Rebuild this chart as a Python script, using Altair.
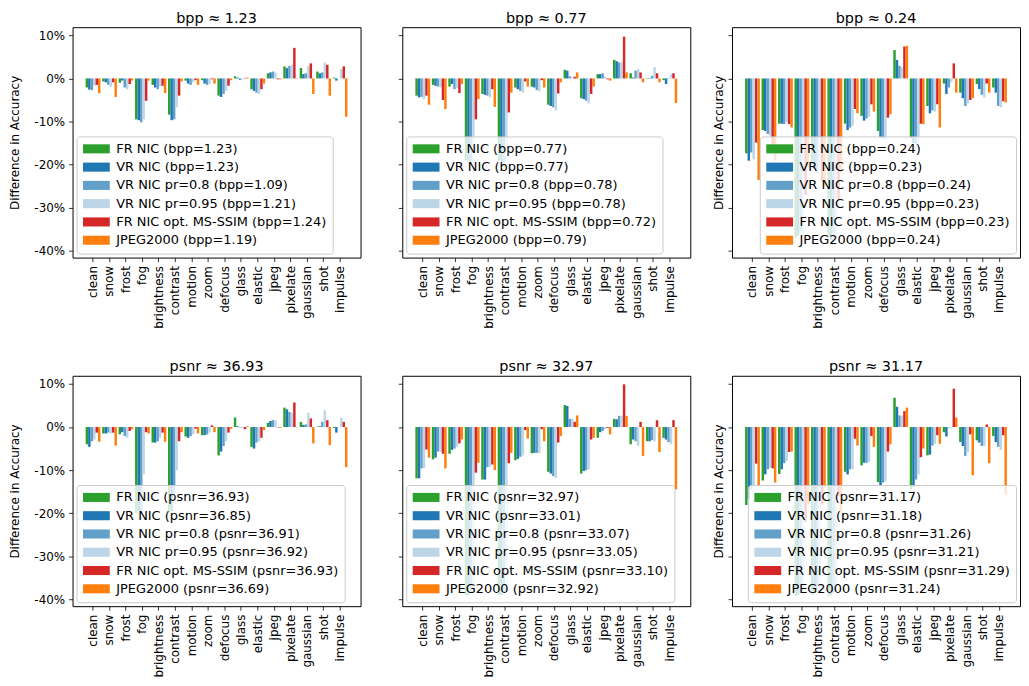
import altair as alt
import pandas as pd

CATEGORIES = ["clean", "snow", "frost", "fog", "brightness", "contrast", "motion", "zoom",
              "defocus", "glass", "elastic", "jpeg", "pixelate", "gaussian", "shot", "impulse"]
COLORS = ["#2ca02c", "#1f77b4", "#62a0ca", "#bcd6e8", "#d62728", "#ff7f0e"]
Y_TICKS = [10, 0, -10, -20, -30, -40]
TITLES = ["bpp ≈ 1.23", "bpp ≈ 0.77", "bpp ≈ 0.24", "psnr ≈ 36.93", "psnr ≈ 32.97", "psnr ≈ 31.17"]

# ---- panel 1: bpp ~ 1.23
P1_LABELS = ["FR NIC (bpp=1.23)", "VR NIC (bpp=1.23)", "VR NIC pr=0.8 (bpp=1.09)",
             "VR NIC pr=0.95 (bpp=1.21)", "FR NIC opt. MS-SSIM (bpp=1.24)", "JPEG2000 (bpp=1.19)"]
P1_FR = [-2.1, -0.7, -1.0, -9.5, -1.5, -8.4, -0.5, -0.4, -4.0, 0.5, -2.5, 1.2, 2.8, 2.4, 1.6, 0.2]
P1_VR = [-2.6, -0.9, -0.5, -9.7, -2.1, -9.7, -1.2, -1.2, -4.3, 0.2, -2.9, 1.4, 2.4, 1.0, 1.2, -0.5]
P1_VR08 = [-2.7, -1.5, -2.1, -10.2, -2.5, -9.5, -1.5, -1.5, -3.6, -0.4, -3.3, 1.6, 2.9, 1.2, 1.4, 0.0]
P1_VR095 = [-1.7, -1.9, -2.5, -9.5, -1.9, -6.7, -0.9, -1.3, -2.9, -0.2, -3.6, 1.4, 3.2, 2.9, 3.7, 2.2]
P1_MS = [-1.5, -0.9, -1.3, -5.2, -1.7, -4.0, -0.4, -0.2, -1.7, 0.1, -2.5, -0.2, 7.1, 3.5, 3.2, 2.8]
P1_JPEG = [-3.4, -4.3, -0.5, -0.5, -3.4, -0.7, -1.5, -1.2, -0.4, 0.2, -1.2, -0.2, -0.1, -3.6, -4.0, -8.9]

# ---- panel 2: bpp ~ 0.77
P2_LABELS = ["FR NIC (bpp=0.77)", "VR NIC (bpp=0.77)", "VR NIC pr=0.8 (bpp=0.78)",
             "VR NIC pr=0.95 (bpp=0.78)", "FR NIC opt. MS-SSIM (bpp=0.72)", "JPEG2000 (bpp=0.79)"]
P2_FR = [-4.0, -1.5, -1.9, -19.0, -3.6, -19.0, -2.1, -1.9, -6.1, 2.0, -4.6, 1.0, 4.3, 1.2, 0.1, -0.4]
P2_VR = [-4.4, -1.7, -1.3, -19.2, -3.8, -19.3, -2.5, -2.1, -6.4, 1.8, -4.8, 1.0, 4.0, 0.2, -0.1, -1.3]
P2_VR08 = [-4.3, -1.9, -2.5, -19.5, -4.0, -19.4, -2.9, -2.7, -6.7, 0.5, -5.2, 1.2, 3.7, 1.8, 0.6, 0.1]
P2_VR095 = [-4.8, -2.1, -2.2, -19.0, -4.4, -19.0, -3.3, -3.0, -7.4, 0.2, -5.8, 0.4, 3.7, 2.2, 2.6, 1.0]
P2_MS = [-4.0, -5.0, -3.4, -9.5, -2.5, -7.9, -0.7, -0.4, -3.5, 0.4, -3.6, -0.2, 9.7, 1.4, 1.2, 1.2]
P2_JPEG = [-6.1, -7.1, -1.3, -4.8, -6.6, -3.3, -1.9, -2.1, -0.9, 1.4, -1.9, -0.5, 1.4, -0.9, -0.9, -5.7]

# ---- panel 3: bpp ~ 0.24
P3_LABELS = ["FR NIC (bpp=0.24)", "VR NIC (bpp=0.23)", "VR NIC pr=0.8 (bpp=0.24)",
             "VR NIC pr=0.95 (bpp=0.23)", "FR NIC opt. MS-SSIM (bpp=0.23)", "JPEG2000 (bpp=0.24)"]
P3_FR = [-17.4, -12.0, -10.5, -37.0, -20.0, -37.0, -10.5, -8.7, -12.2, 6.6, -13.9, -6.4, -1.2, -3.3, -1.3, -2.1]
P3_VR = [-19.1, -12.2, -10.5, -36.5, -21.0, -37.5, -12.0, -9.8, -13.7, 4.3, -15.0, -8.1, -3.6, -4.6, -2.5, -3.3]
P3_VR08 = [-17.2, -12.9, -10.6, -35.5, -22.0, -36.0, -11.4, -9.3, -14.0, 2.9, -15.3, -7.4, -2.1, -6.4, -3.8, -6.4]
P3_VR095 = [-18.8, -13.3, -10.2, -37.0, -21.0, -37.0, -11.0, -8.9, -14.7, 2.6, -15.0, -7.7, -0.9, -5.8, -4.4, -6.7]
P3_MS = [-14.9, -15.9, -10.6, -27.0, -24.0, -28.0, -7.1, -6.0, -9.1, 7.4, -10.5, -6.0, 3.5, -5.0, -1.2, -5.3]
P3_JPEG = [-23.6, -19.1, -11.4, -20.0, -25.0, -22.0, -8.1, -7.7, -8.3, 7.6, -10.6, -11.4, -3.3, -4.6, -3.3, -5.6]

# ---- panel 4: psnr ~ 36.93
P4_LABELS = ["FR NIC (psnr=36.93)", "VR NIC (psnr=36.85)", "VR NIC pr=0.8 (psnr=36.91)",
             "VR NIC pr=0.95 (psnr=36.92)", "FR NIC opt. MS-SSIM (psnr=36.93)", "JPEG2000 (psnr=36.69)"]
P4_FR = [-4.0, -1.5, -1.7, -20.0, -3.6, -20.0, -2.2, -1.9, -6.6, 2.2, -4.6, 1.0, 4.5, 1.2, 0.1, -0.2]
P4_VR = [-4.6, -1.5, -1.2, -19.5, -3.6, -19.5, -2.5, -1.9, -5.7, 0.2, -5.0, 1.4, 4.1, 0.5, 0.2, -1.3]
P4_VR08 = [-3.3, -1.3, -2.1, -19.5, -3.3, -15.5, -2.1, -1.7, -4.4, -0.1, -3.6, 1.6, 3.5, 0.6, 1.2, 0.0]
P4_VR095 = [-2.9, -1.5, -2.5, -11.0, -2.5, -10.0, -1.7, -1.3, -3.3, -0.2, -3.3, 1.6, 3.3, 3.3, 3.9, 2.2]
P4_MS = [-1.3, -1.3, -0.9, -1.2, -1.3, -3.3, -0.4, 0.4, -1.3, -0.5, -2.5, -0.1, 5.7, 2.0, 1.6, 1.2]
P4_JPEG = [-3.4, -4.3, -0.5, -1.5, -3.4, -1.2, -1.5, -1.2, -0.4, 0.2, -0.7, -0.2, -0.1, -3.8, -4.2, -9.3]

# ---- panel 5: psnr ~ 32.97
P5_LABELS = ["FR NIC (psnr=32.97)", "VR NIC (psnr=33.01)", "VR NIC pr=0.8 (psnr=33.07)",
             "VR NIC pr=0.95 (psnr=33.05)", "FR NIC opt. MS-SSIM (psnr=33.10)", "JPEG2000 (psnr=32.92)"]
P5_FR = [-11.9, -7.5, -6.2, -39.0, -12.2, -39.0, -7.7, -6.1, -10.4, 5.1, -10.8, -2.5, 1.9, -4.0, -3.3, -2.5]
P5_VR = [-11.9, -7.1, -5.3, -39.0, -12.2, -39.0, -7.4, -6.0, -10.8, 4.9, -10.2, -1.2, 1.8, -2.9, -3.3, -2.9]
P5_VR08 = [-9.6, -5.7, -5.0, -38.5, -9.3, -38.5, -6.9, -6.0, -11.4, 1.9, -10.0, -0.9, 2.6, -3.3, -3.0, -3.5]
P5_VR095 = [-9.5, -5.7, -4.6, -38.0, -9.3, -38.0, -6.6, -6.1, -11.8, 1.9, -9.8, -0.5, 2.6, -4.4, -3.3, -4.0]
P5_MS = [-5.2, -6.2, -3.8, -10.6, -8.7, -8.4, -0.7, -0.5, -3.6, 1.2, -2.9, -0.2, 9.9, 1.2, 1.6, 1.6]
P5_JPEG = [-7.1, -9.6, -2.9, -8.3, -10.0, -6.0, -2.7, -3.3, -2.1, 2.7, -2.5, -1.7, 2.6, -6.7, -5.8, -14.5]

# ---- panel 6: psnr ~ 31.17
P6_LABELS = ["FR NIC (psnr=31.17)", "VR NIC (psnr=31.18)", "VR NIC pr=0.8 (psnr=31.26)",
             "VR NIC pr=0.95 (psnr=31.21)", "FR NIC opt. MS-SSIM (psnr=31.29)", "JPEG2000 (psnr=31.24)"]
P6_FR = [-18.1, -12.4, -10.9, -39.3, -39.0, -39.3, -10.4, -8.9, -12.8, 6.8, -14.5, -6.6, -1.2, -3.5, -3.1, -2.1]
P6_VR = [-16.8, -11.0, -9.8, -39.0, -38.5, -39.0, -11.0, -8.3, -13.7, 4.7, -13.9, -6.4, -2.2, -4.4, -3.6, -3.5]
P6_VR08 = [-14.5, -9.8, -8.4, -38.5, -37.5, -38.5, -9.8, -8.3, -12.9, 2.7, -12.2, -4.3, -0.1, -6.7, -4.4, -4.6]
P6_VR095 = [-13.6, -9.5, -7.9, -38.0, -37.0, -38.0, -9.8, -8.1, -12.6, 2.6, -11.0, -3.9, -0.1, -5.8, -4.4, -5.3]
P6_MS = [-8.5, -9.6, -5.8, -22.0, -18.0, -16.0, -2.7, -2.1, -5.7, 3.7, -7.0, -1.9, 8.9, -1.7, 0.6, -1.9]
P6_JPEG = [-13.7, -12.9, -5.7, -18.0, -14.0, -20.0, -4.3, -4.6, -4.0, 4.5, -5.0, -3.9, 2.2, -11.2, -8.4, -15.7]

FONT = "DejaVu Sans"
PANEL_W = 290
PANEL_H = 232
Y_DOMAIN = [-41.6, 11.9]
# wide legend patch: drawn 27px x 9px, laid out as a 12px symbol
PATCH = "M-1,-0.76H3.5V0.76H-1Z"


def panel(title, labels, series, show_ticklabels, show_ytitle, legend_orient):
    rows = []
    for i, (lab, vals) in enumerate(zip(labels, series)):
        for cat, v in zip(CATEGORIES, vals):
            rows.append({"category": cat, "idx": i, "series": lab, "value": v})
    df = pd.DataFrame(rows)

    yaxis_kw = dict(values=Y_TICKS, grid=False, domain=False, tickColor="#000", tickSize=4,
                    tickWidth=0.8, labelPadding=4, labelFontSize=12, labelFont=FONT,
                    labelColor="#000", labels=show_ticklabels)
    if show_ticklabels:
        yaxis_kw["labelExpr"] = "datum.value + '%'"
    if show_ytitle:
        yaxis_kw.update(title="Difference in Accuracy", titleFontSize=12, titleFont=FONT,
                        titleFontWeight="normal", titleColor="#000",
                        titlePadding=12 if show_ticklabels else 2)
    else:
        yaxis_kw["title"] = None

    chart = alt.Chart(df).mark_bar().encode(
        x=alt.X("category:N", sort=CATEGORIES,
                scale=alt.Scale(paddingInner=0.1, paddingOuter=0.795),
                axis=alt.Axis(title=None, labelAngle=-90, domain=False, grid=False,
                              tickColor="#000", tickSize=4, tickWidth=0.8, labelPadding=4,
                              labelFontSize=12, labelFont=FONT, labelColor="#000",
                              labelOverlap=False)),
        xOffset=alt.XOffset("idx:O", scale=alt.Scale(paddingInner=0, paddingOuter=0)),
        y=alt.Y("value:Q", stack=None,
                scale=alt.Scale(domain=Y_DOMAIN, nice=False, zero=False),
                axis=alt.Axis(**yaxis_kw)),
        color=alt.Color("series:N",
                        scale=alt.Scale(domain=labels, range=COLORS),
                        legend=alt.Legend(title=None, orient=legend_orient, offset=4,
                                          fillColor="rgba(255,255,255,0.8)",
                                          strokeColor="#cccccc", cornerRadius=3, padding=6,
                                          symbolType=PATCH, symbolSize=144,
                                          symbolStrokeWidth=0, symbolOpacity=1,
                                          labelFontSize=13, labelFont=FONT, labelColor="#000",
                                          labelLimit=400, labelOffset=21, rowPadding=4.4)),
    ).properties(
        width=PANEL_W, height=PANEL_H,
        title=alt.TitleParams(text=title, fontSize=14.5, fontWeight="normal", font=FONT,
                              color="#000", offset=1),
    )
    return chart


p1 = panel(TITLES[0], P1_LABELS, [P1_FR, P1_VR, P1_VR08, P1_VR095, P1_MS, P1_JPEG], True, True, "bottom-left")
p2 = panel(TITLES[1], P2_LABELS, [P2_FR, P2_VR, P2_VR08, P2_VR095, P2_MS, P2_JPEG], False, False, "bottom-left")
p3 = panel(TITLES[2], P3_LABELS, [P3_FR, P3_VR, P3_VR08, P3_VR095, P3_MS, P3_JPEG], False, True, "bottom-right")
p4 = panel(TITLES[3], P4_LABELS, [P4_FR, P4_VR, P4_VR08, P4_VR095, P4_MS, P4_JPEG], True, True, "bottom-left")
p5 = panel(TITLES[4], P5_LABELS, [P5_FR, P5_VR, P5_VR08, P5_VR095, P5_MS, P5_JPEG], False, False, "bottom-left")
p6 = panel(TITLES[5], P6_LABELS, [P6_FR, P6_VR, P6_VR08, P6_VR095, P6_MS, P6_JPEG], False, True, "bottom-right")

chart = alt.concat(
    p1, p2, p3, p4, p5, p6, columns=3,
    spacing={"row": 119, "column": 42}, bounds="flush",
).resolve_scale(
    color="independent"
).properties(
    padding={"left": 0, "top": 0, "right": 0, "bottom": 0}
).configure(font=FONT).configure_view(stroke="#000", strokeWidth=1)

chart.save("out.html", embed_options={"renderer": "svg", "actions": False})
